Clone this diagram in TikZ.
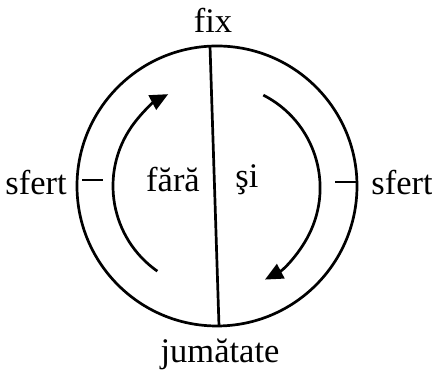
\documentclass[tikz,border=0pt]{standalone}
\usepackage{fontspec}
\setmainfont{Liberation Serif}
\usetikzlibrary{arrows.meta}
\begin{document}
\begin{tikzpicture}[x=1pt,y=1pt, line width=2.7pt,
  lbl/.style={font=\fontsize{34.5}{40}\selectfont, inner sep=0pt},
  turn/.style={-{Triangle[length=18pt,width=16pt]}, line width=2.7pt}]
\useasboundingbox (0,0) rectangle (432,371);
\coordinate (c) at (217,185);
\node[circle, draw, minimum size=280pt, inner sep=0pt, line width=2.7pt] (circ) at (c) {};
\coordinate (top) at (210,325);
\coordinate (bot) at (219,45);
\draw (top) -- (bot);
\coordinate (lt1) at (82,191); \coordinate (lt2) at (103,191);
\coordinate (rt1) at (335,189); \coordinate (rt2) at (357,189);
\draw (lt1) -- (lt2);
\draw (rt1) -- (rt2);
\draw[turn] ([shift={(235:104)}]c) arc[start angle=235, end angle=118, radius=104];
\draw[turn] ([shift={(63:102)}]c) arc[start angle=63, end angle=-62, radius=104];
\node[lbl] (fix) at (213,351) {fix};
\node[lbl] (jum) at (220,17) {jumătate};
\node[lbl] (sl) at (36,188) {sfert};
\node[lbl] (sr) at (402,188) {sfert};
\node[lbl] (fara) at (173,191) {fără};
\node[lbl] (si) at (247,191) {şi};
\end{tikzpicture}
\end{document}
